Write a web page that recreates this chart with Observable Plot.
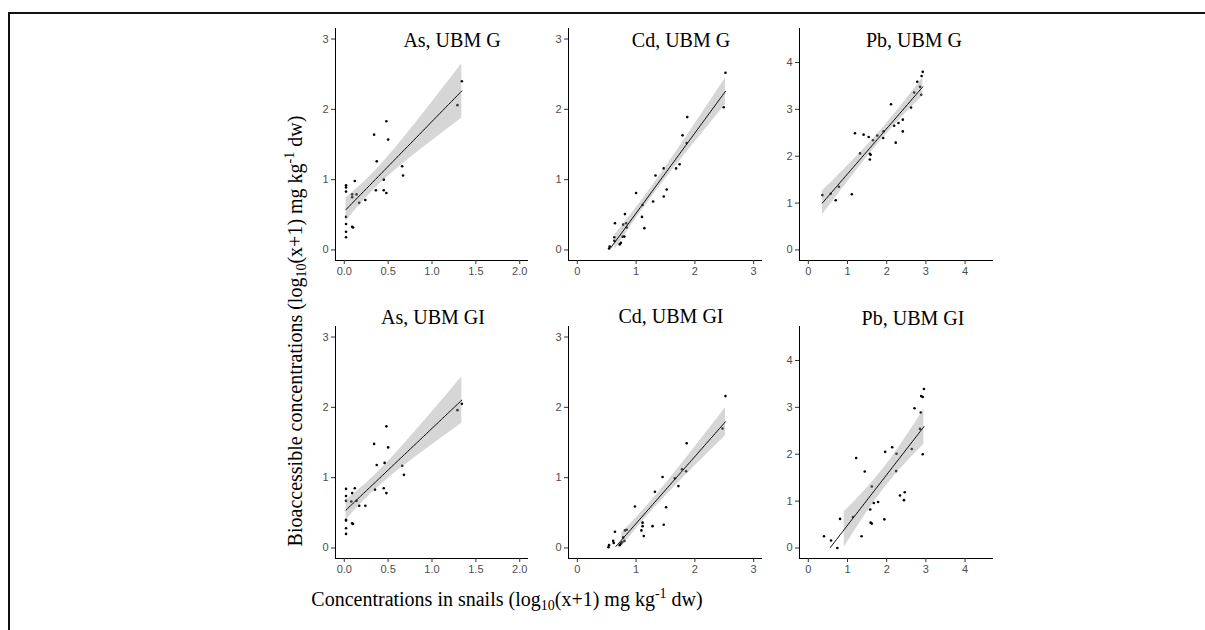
<!DOCTYPE html>
<html><head><meta charset="utf-8">
<script src="https://cdn.jsdelivr.net/npm/d3@7"></script>
<script src="https://cdn.jsdelivr.net/npm/@observablehq/plot@0.6"></script>
<style>
html,body{margin:0;padding:0;background:#fff;width:1205px;height:630px;overflow:hidden;position:relative;}
#frame{position:absolute;left:8px;top:12px;width:1400px;height:800px;border-left:2px solid #111;border-top:2px solid #111;}
.panel{position:absolute;}
.txt{position:absolute;font-family:"Liberation Serif","Times New Roman",serif;font-size:20px;line-height:20px;color:#000;white-space:nowrap;}
.txt sub,.txt sup{font-size:70%;line-height:0;}
.txt sub{vertical-align:-0.25em;}
.txt sup{vertical-align:0.55em;}
</style></head><body>
<div id="frame"></div>
<div id="root"></div>
<script>
// ---------- data (x: concentration in snails, y: bioaccessible concentration) ----------
const asG_x = [0.02,0.02,0.02,0.02,0.02,0.02,0.02,0.09,0.09,0.09,0.10,0.12,0.14,0.17,0.24,0.34,0.36,0.37,0.45,0.45,0.48,0.48,0.50,0.66,0.67,1.29,1.34];
const asG_y = [0.92,0.89,0.83,0.47,0.37,0.26,0.18,0.79,0.75,0.33,0.32,0.98,0.79,0.67,0.71,1.64,0.85,1.26,1.00,0.85,1.83,0.81,1.57,1.19,1.06,2.06,2.40];

const cdG_x = [0.54,0.55,0.63,0.63,0.64,0.72,0.74,0.77,0.78,0.80,0.81,0.83,0.84,1.00,1.10,1.11,1.14,1.29,1.33,1.47,1.47,1.52,1.68,1.74,1.79,1.86,1.87,2.49,2.52];
const cdG_y = [0.02,0.05,0.18,0.13,0.38,0.08,0.10,0.19,0.36,0.19,0.51,0.38,0.32,0.81,0.47,0.64,0.31,0.69,1.06,0.76,1.16,0.86,1.16,1.22,1.63,1.52,1.89,2.03,2.52];

const pbG_x = [0.36,0.57,0.70,0.78,1.11,1.19,1.32,1.41,1.54,1.57,1.57,1.59,1.65,1.76,1.91,1.92,2.11,2.19,2.23,2.30,2.41,2.41,2.62,2.70,2.78,2.85,2.88,2.89,2.92];
const pbG_y = [1.17,1.20,1.06,1.35,1.19,2.49,2.06,2.46,2.41,2.05,1.93,2.03,2.34,2.44,2.39,2.53,3.11,2.65,2.29,2.71,2.78,2.53,3.04,3.36,3.59,3.48,3.31,3.71,3.80];

const asGI_x = [0.02,0.02,0.02,0.02,0.02,0.02,0.02,0.08,0.09,0.09,0.10,0.12,0.14,0.17,0.24,0.34,0.35,0.37,0.46,0.45,0.48,0.48,0.50,0.66,0.68,1.29,1.34];
const asGI_y = [0.84,0.74,0.67,0.40,0.39,0.28,0.20,0.66,0.78,0.35,0.34,0.85,0.67,0.60,0.60,1.48,0.83,1.18,1.21,0.85,1.73,0.78,1.43,1.17,1.04,1.96,2.05];

const cdGI_x = [0.53,0.54,0.61,0.62,0.64,0.72,0.74,0.76,0.78,0.80,0.81,0.84,0.98,1.09,1.11,1.11,1.13,1.28,1.32,1.45,1.47,1.51,1.66,1.72,1.78,1.85,1.86,2.47,2.52];
const cdGI_y = [0.01,0.04,0.10,0.07,0.23,0.04,0.06,0.08,0.15,0.10,0.25,0.26,0.59,0.25,0.36,0.31,0.17,0.31,0.80,1.01,0.33,0.58,0.99,0.88,1.12,1.09,1.49,1.70,2.16];

const pbGI_x = [0.40,0.58,0.74,0.81,1.14,1.22,1.36,1.44,1.58,1.59,1.62,1.62,1.67,1.78,1.94,1.96,2.14,2.24,2.25,2.34,2.44,2.46,2.64,2.71,2.85,2.87,2.88,2.92,2.92,2.95];
const pbGI_y = [0.25,0.16,0.00,0.62,0.66,1.92,0.25,1.63,0.82,0.54,0.52,1.31,0.96,0.98,0.61,2.05,2.15,1.64,2.01,1.12,1.02,1.19,2.11,2.98,2.54,2.89,3.24,3.22,2.00,3.39];

// ---------- tick labels / titles ----------
const titles = ["As, UBM G","Cd, UBM G","Pb, UBM G","As, UBM GI","Cd, UBM GI","Pb, UBM GI"];
const asTicksX = [0, 0.5, 1, 1.5, 2];
const cdTicksX = [0, 1, 2, 3];
const pbTicksX = [0, 1, 2, 3, 4];
const asCdTicksY = [0, 1, 2, 3];
const pbTicksY = [0, 1, 2, 3, 4];

// ---------- layout ----------
const mL = 40, mT = 10, mR = 15, mB = 30;
const rowTop = [27.5, 325.5];
const frameH = 232;
const cols = [
  {left: 335, w: 193, xD: [-0.1, 2.1], yD: [-0.15, 3.15], xt: asTicksX, yt: asCdTicksY, fmt: d3.format(".1f")},
  {left: 568, w: 194, xD: [-0.15, 3.15], yD: [-0.15, 3.15], xt: cdTicksX, yt: asCdTicksY, fmt: d3.format("d")},
  {left: 799, w: 194, xD: [-0.225, 4.725], yD: [-0.225, 4.725], xt: pbTicksX, yt: pbTicksY, fmt: d3.format("d")}
];
const data = [[asG_x,asG_y],[cdG_x,cdG_y],[pbG_x,pbG_y],[asGI_x,asGI_y],[cdGI_x,cdGI_y],[pbGI_x,pbGI_y]];
const titlePos = [[452,47],[681,47],[914,47],[433,324],[671,323],[913,325]];

function tq(df){ // t quantile 0.975
  const z = 1.959964;
  return z + (z**3+z)/(4*df) + (5*z**5+16*z**3+3*z)/(96*df*df) + (3*z**7+19*z**5+17*z**3-15*z)/(384*df**3);
}
function smooth(xs, ys, n = 80){
  const N = xs.length, mx = d3.mean(xs), my = d3.mean(ys);
  let sxx = 0, sxy = 0;
  for (let i = 0; i < N; i++){ sxx += (xs[i]-mx)**2; sxy += (xs[i]-mx)*(ys[i]-my); }
  const b = sxy/sxx, a = my - b*mx;
  let sse = 0; for (let i = 0; i < N; i++) sse += (ys[i]-a-b*xs[i])**2;
  const s = Math.sqrt(sse/(N-2)), t = tq(N-2);
  const [x0, x1] = d3.extent(xs);
  return d3.range(n).map(i => {
    const x = x0 + (x1-x0)*i/(n-1), y = a + b*x;
    const se = s*Math.sqrt(1/N + (x-mx)**2/sxx);
    return {x, y, lo: y - t*se, hi: y + t*se};
  });
}

const root = document.getElementById("root");
data.forEach(([xs, ys], k) => {
  const c = cols[k % 3], top = rowTop[Math.floor(k/3)];
  const pts = xs.map((x, i) => ({x, y: ys[i]}));
  const fit = smooth(xs, ys);
  const line = fit.filter(d => d.y >= 0);
  const band = fit.filter(d => d.lo >= 0);
  const chart = Plot.plot({
    width: c.w + mL + mR, height: frameH + mT + mB,
    marginLeft: mL, marginRight: mR, marginTop: mT, marginBottom: mB,
    x: {domain: c.xD}, y: {domain: c.yD},
    style: {background: "transparent", fontFamily: "'Liberation Sans', Arial, sans-serif", fontSize: "11px", overflow: "visible"},
    marks: [
      Plot.dot(pts, {x: "x", y: "y", r: 1.3, fill: "#000", stroke: null}),
      Plot.areaY(band, {x: "x", y1: "lo", y2: "hi", fill: "#999999", fillOpacity: 0.4}),
      Plot.line(line, {x: "x", y: "y", stroke: "#000", strokeWidth: 1}),
      Plot.ruleX([c.xD[0]], {stroke: "#000", strokeWidth: 1}),
      Plot.ruleY([c.yD[0]], {stroke: "#000", strokeWidth: 1}),
      Plot.axisX({ticks: c.xt, tickFormat: c.fmt, tickSize: 4, tickPadding: 3, stroke: "#333", fill: "#4d4d4d", label: null}),
      Plot.axisY({ticks: c.yt, tickFormat: d3.format("d"), tickSize: 4, tickPadding: 3, stroke: "#333", fill: "#4d4d4d", label: null})
    ]
  });
  const div = document.createElement("div");
  div.className = "panel";
  div.style.left = (c.left - mL) + "px";
  div.style.top = (top - mT) + "px";
  div.appendChild(chart);
  root.appendChild(div);

  const t = document.createElement("div");
  t.className = "txt";
  t.textContent = titles[k];
  t.style.left = titlePos[k][0] + "px";
  t.style.top = (titlePos[k][1] - 16.75) + "px";
  t.style.transform = "translateX(-50%)";
  root.appendChild(t);
});

const xl = document.createElement("div");
xl.className = "txt";
xl.innerHTML = "Concentrations in snails (log<sub>10</sub>(x+1) mg kg<sup>-1</sup> dw)";
xl.style.left = "507px"; xl.style.top = (606 - 16.75) + "px"; xl.style.transform = "translateX(-50%)";
root.appendChild(xl);

const yl = document.createElement("div");
yl.className = "txt";
yl.innerHTML = "Bioaccessible concentrations (log<sub>10</sub>(x+1) mg kg<sup>-1</sup> dw)";
yl.style.left = "295px"; yl.style.top = "331px"; yl.style.transform = "translate(-50%,-50%) rotate(-90deg)";
root.appendChild(yl);
</script>
</body></html>
